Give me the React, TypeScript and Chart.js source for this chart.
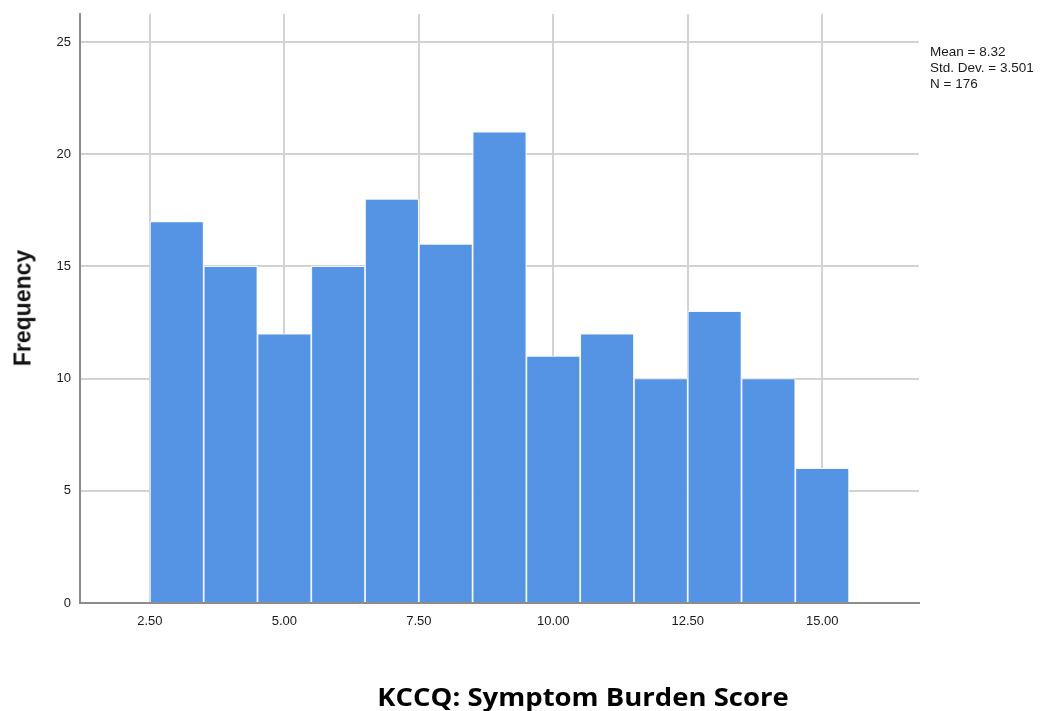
import React, { useEffect, useRef } from "react";
import { Chart, registerables } from "chart.js";

Chart.register(...registerables);

const binStarts = [2.5, 3.5, 4.5, 5.5, 6.5, 7.5, 8.5, 9.5, 10.5, 11.5, 12.5, 13.5, 14.5];
const frequencies = [17, 15, 12, 15, 18, 16, 21, 11, 12, 10, 13, 10, 6];
const xTicks = [2.5, 5, 7.5, 10, 12.5, 15];
const yTicks = [0, 5, 10, 15, 20, 25];
const statsLines = ["Mean = 8.32", "Std. Dev. = 3.501", "N = 176"];
const xTitle = "KCCQ: Symptom Burden Score";
const yTitle = "Frequency";

export default function App() {
  const ref = useRef<HTMLCanvasElement | null>(null);

  useEffect(() => {
    if (!ref.current) return;
    const data = binStarts.map((s, i) => ({ x: s + 0.5, y: frequencies[i] }));
    const chart = new Chart(ref.current, {
      type: "bar",
      data: {
        datasets: [
          {
            data: data as any,
            backgroundColor: "#5594e4",
            borderColor: "#f2f7fd",
            borderWidth: { left: 1.2, right: 1.2, top: 1, bottom: 0 } as any,
            borderSkipped: false,
            barPercentage: 1,
            categoryPercentage: 1,
          },
        ],
      },
      options: {
        animation: false,
        responsive: false,
        maintainAspectRatio: false,
        layout: { padding: { top: 14, right: 134, left: 0, bottom: 0 } },
        plugins: {
          legend: { display: false },
          tooltip: { enabled: false },
        },
        scales: {
          x: {
            type: "linear",
            min: 1.2,
            max: 16.8,
            offset: false,
            afterBuildTicks: (s: any) => {
              s.ticks = xTicks.map((v) => ({ value: v }));
            },
            afterFit: (s: any) => {
              s.height = 108;
            },
            grid: {
              color: "#d2d2d2",
              lineWidth: 2,
              drawTicks: false,
              offset: false,
            },
            border: { color: "#8c8c8c", width: 2 },
            ticks: {
              padding: 11,
              color: "#1a1a1a",
              font: { family: "Liberation Sans, Arial", size: 13 },
              callback: (v: any) => Number(v).toFixed(2),
              maxRotation: 0,
              autoSkip: false,
            },
          },
          y: {
            type: "linear",
            min: 0,
            max: 26.25,
            afterBuildTicks: (s: any) => {
              s.ticks = yTicks.map((v) => ({ value: v }));
            },
            afterFit: (s: any) => {
              s.width = 80;
              s.paddingTop = 0;
              s.paddingBottom = 0;
            },
            grid: {
              color: "#d2d2d2",
              lineWidth: 2,
              drawTicks: false,
            },
            border: { color: "#8c8c8c", width: 2 },
            ticks: {
              padding: 9,
              color: "#1a1a1a",
              font: { family: "Liberation Sans, Arial", size: 13 },
            },
          },
        },
      },
    });
    return () => chart.destroy();
  }, []);

  return (
    <div
      style={{
        position: "fixed",
        left: 0,
        top: 0,
        width: 1053,
        height: 711,
        background: "#fff",
        overflow: "hidden",
      }}
    >
      <canvas ref={ref} width={1053} height={711} style={{ position: "absolute", left: 0, top: 0 }} />
      <div
        style={{
          position: "absolute",
          left: 23,
          top: 308,
          transform: "translate(-50%, -50%) rotate(-90deg)",
          fontFamily: "Liberation Sans, Arial, sans-serif",
          fontWeight: "bold",
          fontSize: 23,
          color: "#111",
          whiteSpace: "nowrap",
        }}
      >
        {yTitle}
      </div>
      <div
        style={{
          position: "absolute",
          left: 930,
          top: 44,
          fontFamily: "Liberation Sans, Arial, sans-serif",
          fontSize: 13.5,
          lineHeight: "16px",
          color: "#1a1a1a",
          whiteSpace: "nowrap",
        }}
      >
        {statsLines.map((l) => (
          <div key={l}>{l}</div>
        ))}
      </div>
      <div
        style={{
          position: "absolute",
          left: 583,
          top: 696,
          transform: "translate(-50%, -50%) scaleX(1.1)",
          fontFamily: "Open Sans, sans-serif",
          fontWeight: "bold",
          fontSize: 25,
          color: "#000",
          whiteSpace: "nowrap",
        }}
      >
        {xTitle}
      </div>
    </div>
  );
}
